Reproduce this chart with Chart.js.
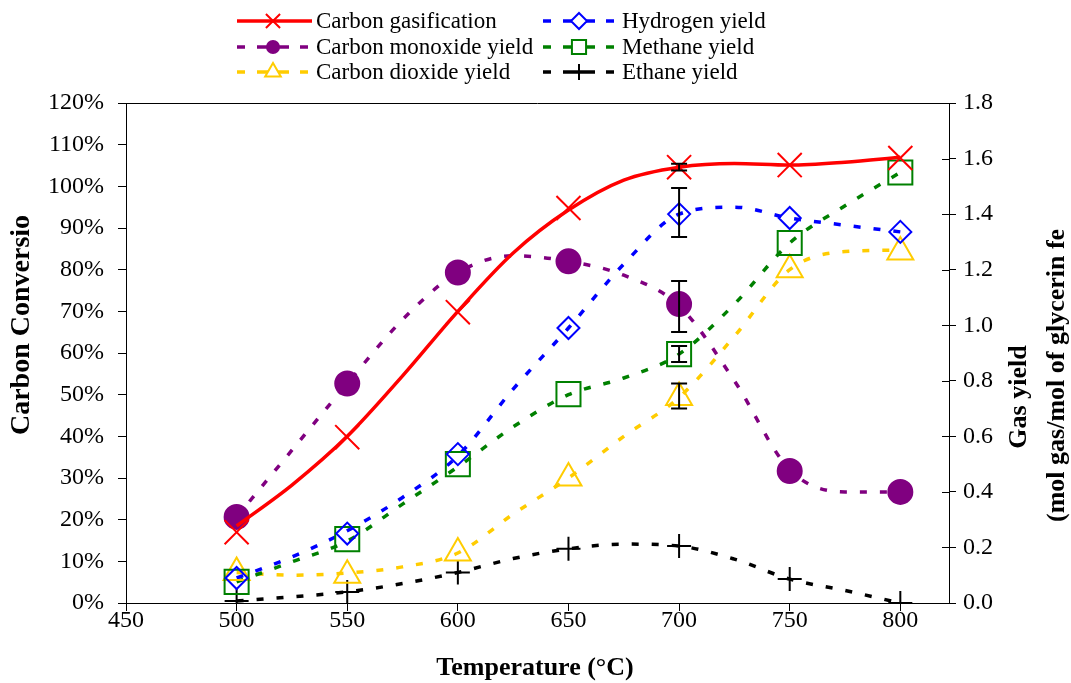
<!DOCTYPE html>
<html>
<head>
<meta charset="utf-8">
<script src="https://cdn.jsdelivr.net/npm/chart.js@4.4.0/dist/chart.umd.min.js"></script>
<style>
  html, body { margin: 0; padding: 0; background: #fff; }
  #wrap { width: 1071px; height: 683px; }
</style>
</head>
<body>
<div id="wrap"><canvas id="chart" width="1071" height="683"></canvas></div>
<script>
const markerTemps = [500, 550, 600, 650, 700, 750, 800];
const curveTemps = [500, 525, 550, 575, 600, 625, 650, 675, 700, 725, 750, 775, 800];
const xTicks = [450, 500, 550, 600, 650, 700, 750, 800];

const gasificationPts = [17, 39.8, 69.8, 94.8, 104.6, 105.1, 106.8];
const gasificationCurve = [18.5, 28.3, 40, 54.5, 70, 84, 94.3, 101.5, 104.6, 105.5, 105.1, 105.8, 107];

const coPts = [0.31, 0.79, 1.19, 1.23, 1.076, 0.475, 0.40];
const coCurve = [0.31, 0.55, 0.79, 1.02, 1.19, 1.25, 1.23, 1.18, 1.07, 0.80, 0.48, 0.40, 0.40];

const h2Pts = [0.09, 0.25, 0.536, 0.99, 1.40, 1.386, 1.336];
const h2Curve = [0.09, 0.166, 0.26, 0.38, 0.53, 0.77, 0.99, 1.22, 1.40, 1.425, 1.386, 1.36, 1.336];

const ch4Pts = [0.076, 0.23, 0.50, 0.752, 0.896, 1.296, 1.55];
const ch4Curve = [0.076, 0.148, 0.223, 0.356, 0.49, 0.634, 0.75, 0.81, 0.896, 1.076, 1.296, 1.43, 1.55];

const co2Pts = [0.11, 0.10, 0.18, 0.45, 0.74, 1.20, 1.264];
const co2Curve = [0.11, 0.10, 0.108, 0.13, 0.18, 0.32, 0.45, 0.60, 0.74, 0.96, 1.20, 1.265, 1.27];

const ethanePts = [0.007, 0.04, 0.11, 0.195, 0.205, 0.086, 0.0];
const ethaneCurve = [0.007, 0.022, 0.04, 0.07, 0.11, 0.16, 0.195, 0.212, 0.205, 0.158, 0.086, 0.045, 0.0];

// error bars at 700 °C
const errorTemp = 700;
const errorLow = [103.8, 1.318, 0.976, 0.868, 0.70];
const errorHigh = [105.4, 1.494, 1.159, 0.925, 0.79];
const errorAxis = ['y', 'y2', 'y2', 'y2', 'y2'];

const legendNames = ['Carbon gasification', 'Carbon monoxide yield', 'Carbon dioxide yield',
                     'Hydrogen yield', 'Methane yield', 'Ethane yield'];

const RED = '#ff0000', PURPLE = '#800080', GOLD = '#ffcc00', BLUE = '#0000ff', GREEN = '#008000', BLACK = '#000000';
const DASH = [7, 13];
const FONT = '"Liberation Serif", "Times New Roman", serif';

function pts(xs, ys) {
  return xs.map((x, i) => ({ x: x, y: ys[i] }));
}

function curve(ys, color, axis, dash) {
  return {
    data: pts(curveTemps, ys), yAxisID: axis,
    borderColor: color, borderWidth: 3.5, borderDash: dash,
    pointRadius: 0, cubicInterpolationMode: 'monotone', fill: false
  };
}

function markers(ys, color, axis, style, r, bg) {
  return {
    data: pts(markerTemps, ys), yAxisID: axis, showLine: false,
    pointStyle: style, pointRadius: r, pointHoverRadius: r,
    pointBorderColor: color, pointBackgroundColor: bg || 'rgba(0,0,0,0)',
    pointBorderWidth: 2
  };
}

function drawMarker(ctx, style, x, y, r, stroke, fill) {
  ctx.save();
  ctx.setLineDash([]);
  ctx.lineWidth = 2;
  ctx.strokeStyle = stroke;
  ctx.fillStyle = fill;
  ctx.beginPath();
  if (style === 'circle') {
    ctx.arc(x, y, r, 0, Math.PI * 2);
    ctx.fill();
  } else if (style === 'crossRot') {
    const d = r * Math.SQRT1_2;
    ctx.moveTo(x - d, y - d); ctx.lineTo(x + d, y + d);
    ctx.moveTo(x + d, y - d); ctx.lineTo(x - d, y + d);
    ctx.stroke();
  } else if (style === 'cross') {
    ctx.moveTo(x - r, y); ctx.lineTo(x + r, y);
    ctx.moveTo(x, y - r); ctx.lineTo(x, y + r);
    ctx.stroke();
  } else if (style === 'rectRot') {
    ctx.moveTo(x, y - r); ctx.lineTo(x + r, y); ctx.lineTo(x, y + r); ctx.lineTo(x - r, y);
    ctx.closePath(); ctx.fill(); ctx.stroke();
  } else if (style === 'rect') {
    const s = r * Math.SQRT1_2;
    ctx.rect(x - s, y - s, 2 * s, 2 * s); ctx.fill(); ctx.stroke();
  } else if (style === 'triangle') {
    ctx.moveTo(x, y - r); ctx.lineTo(x + r * 0.866, y + r / 2); ctx.lineTo(x - r * 0.866, y + r / 2);
    ctx.closePath(); ctx.fill(); ctx.stroke();
  }
  ctx.restore();
}

const extras = {
  id: 'extras',
  afterDatasetsDraw(chart) {
    const ctx = chart.ctx;
    const xs = chart.scales.x;
    // error bars
    ctx.save();
    ctx.strokeStyle = BLACK;
    ctx.lineWidth = 2;
    ctx.setLineDash([]);
    const px = xs.getPixelForValue(errorTemp);
    errorLow.forEach((lo, i) => {
      const ys = chart.scales[errorAxis[i]];
      const y1 = ys.getPixelForValue(lo), y2 = ys.getPixelForValue(errorHigh[i]);
      ctx.beginPath();
      ctx.moveTo(px, y1); ctx.lineTo(px, y2);
      ctx.moveTo(px - 8, y1); ctx.lineTo(px + 8, y1);
      ctx.moveTo(px - 8, y2); ctx.lineTo(px + 8, y2);
      ctx.stroke();
    });
    ctx.restore();
  },
  afterDraw(chart) {
    const ctx = chart.ctx;
    const a = chart.chartArea;
    ctx.save();
    // top frame line
    ctx.strokeStyle = BLACK;
    ctx.lineWidth = 1;
    ctx.beginPath();
    ctx.moveTo(a.left, a.top + 0.5); ctx.lineTo(a.right, a.top + 0.5);
    ctx.stroke();
    // inner ticks of the right axis
    const r = chart.scales.y2;
    r.ticks.forEach(t => {
      const y = Math.round(r.getPixelForValue(t.value)) + 0.5;
      ctx.beginPath(); ctx.moveTo(a.right - 7, y); ctx.lineTo(a.right, y); ctx.stroke();
    });

    // legend
    const rows = [21, 47, 72];
    const items = [
      { col: 0, row: 0, color: RED, style: 'crossRot', r: 10, fill: '#fff', solid: true },
      { col: 0, row: 1, color: PURPLE, style: 'circle', r: 7, fill: PURPLE },
      { col: 0, row: 2, color: GOLD, style: 'triangle', r: 9, fill: '#fff' },
      { col: 1, row: 0, color: BLUE, style: 'rectRot', r: 8, fill: '#fff' },
      { col: 1, row: 1, color: GREEN, style: 'rect', r: 10, fill: '#fff' },
      { col: 1, row: 2, color: BLACK, style: 'cross', r: 8, fill: '#fff' }
    ];
    const colX = [237, 543];
    const textX = [316, 622];
    ctx.font = '23px ' + FONT;
    ctx.textBaseline = 'middle';
    ctx.textAlign = 'left';
    items.forEach((it, i) => {
      const x0 = colX[it.col], y = rows[it.row];
      ctx.strokeStyle = it.color;
      ctx.lineWidth = 3.5;
      ctx.setLineDash([]);
      ctx.beginPath();
      if (it.solid) {
        ctx.moveTo(x0, y); ctx.lineTo(x0 + 75, y);
      } else {
        ctx.moveTo(x0, y); ctx.lineTo(x0 + 8, y);
        ctx.moveTo(x0 + 20, y); ctx.lineTo(x0 + 52, y);
        ctx.moveTo(x0 + 63, y); ctx.lineTo(x0 + 71, y);
      }
      ctx.stroke();
      drawMarker(ctx, it.style, x0 + 36, y, it.r, it.color, it.fill);
      ctx.fillStyle = BLACK;
      ctx.fillText(legendNames[i], textX[it.col], y + 1);
    });

    // axis titles
    ctx.fillStyle = BLACK;
    ctx.font = 'bold 26px ' + FONT;
    ctx.textAlign = 'center';
    ctx.textBaseline = 'middle';
    ctx.fillText('Temperature (°C)', 535, 668);

    ctx.save();
    ctx.font = 'bold 28px ' + FONT;
    ctx.translate(22, 325);
    ctx.rotate(-Math.PI / 2);
    ctx.fillText('Carbon Conversio', 0, 0);
    ctx.restore();

    ctx.save();
    ctx.translate(1019, 397);
    ctx.rotate(-Math.PI / 2);
    ctx.fillText('Gas yield', 0, 0);
    ctx.restore();

    ctx.save();
    ctx.translate(1057, 522);
    ctx.rotate(-Math.PI / 2);
    ctx.textAlign = 'left';
    ctx.fillText('(mol gas/mol of glycerin fe', 0, 0);
    ctx.restore();

    ctx.restore();
  }
};

const tickFont = { family: FONT, size: 24 };

new Chart(document.getElementById('chart'), {
  type: 'line',
  data: {
    datasets: [
      curve(gasificationCurve, RED, 'y', []),
      markers(gasificationPts, RED, 'y', 'crossRot', 17),
      markers(coPts, PURPLE, 'y2', 'circle', 12, PURPLE),
      markers(h2Pts, BLUE, 'y2', 'rectRot', 11),
      markers(ch4Pts, GREEN, 'y2', 'rect', 17),
      markers(co2Pts, GOLD, 'y2', 'triangle', 15),
      markers(ethanePts, BLACK, 'y2', 'cross', 12),
      curve(coCurve, PURPLE, 'y2', DASH),
      curve(h2Curve, BLUE, 'y2', DASH),
      curve(ch4Curve, GREEN, 'y2', DASH),
      curve(co2Curve, GOLD, 'y2', DASH),
      curve(ethaneCurve, BLACK, 'y2', DASH)
    ]
  },
  options: {
    responsive: false,
    animation: false,
    devicePixelRatio: 1,
    layout: { padding: { top: 103, left: 0, right: 0, bottom: 0 } },
    plugins: {
      legend: { display: false },
      tooltip: { enabled: false }
    },
    scales: {
      x: {
        type: 'linear', min: 450, max: 822,
        afterBuildTicks: s => { s.ticks = xTicks.map(v => ({ value: v })); },
        afterFit: s => { s.height = 80; },
        ticks: { font: tickFont, color: BLACK, padding: -5, maxRotation: 0, autoSkip: false },
        grid: { drawOnChartArea: false, drawTicks: true, tickLength: 8, tickColor: BLACK, color: BLACK },
        border: { color: BLACK, width: 1 }
      },
      y: {
        position: 'left', min: 0, max: 120,
        afterFit: s => { s.width = 126; },
        ticks: { stepSize: 10, font: tickFont, color: BLACK, padding: 14, callback: v => v + '%' },
        grid: { drawOnChartArea: false, drawTicks: true, tickLength: 8, tickColor: BLACK, color: BLACK },
        border: { color: BLACK, width: 1 }
      },
      y2: {
        position: 'right', min: 0, max: 1.8,
        afterFit: s => { s.width = 122; },
        ticks: { stepSize: 0.2, font: tickFont, color: BLACK, padding: 7, callback: v => v.toFixed(1) },
        grid: { drawOnChartArea: false, drawTicks: true, tickLength: 7, tickColor: BLACK, color: BLACK },
        border: { color: BLACK, width: 1 }
      }
    }
  },
  plugins: [extras]
});
</script>
</body>
</html>
